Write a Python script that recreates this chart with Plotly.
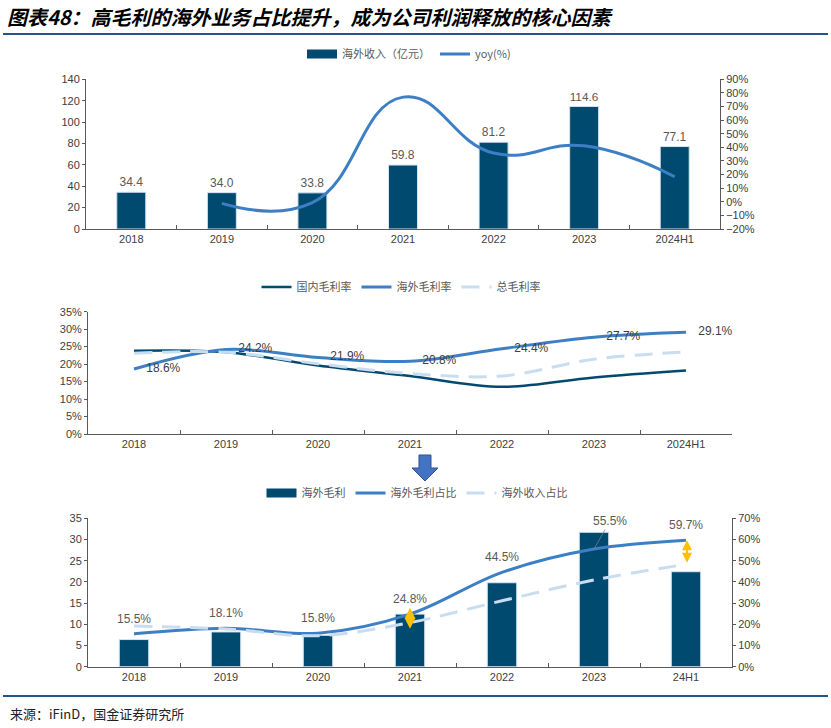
import plotly.graph_objects as go

# ---------------- data ----------------
years_top = ["2018", "2019", "2020", "2021", "2022", "2023", "2024H1"]
overseas_rev = [34.4, 34.0, 33.8, 59.8, 81.2, 114.6, 77.1]          # 海外收入（亿元）
overseas_yoy = [None, -1.2, -0.6, 76.9, 35.8, 41.1, 18.4]            # yoy(%)

years_mid = ["2018", "2019", "2020", "2021", "2022", "2023", "2024H1"]
dom_margin = [23.8, 23.4, 19.6, 16.6, 13.5, 16.2, 18.2]              # 国内毛利率
ovs_margin = [18.6, 24.2, 21.9, 20.8, 24.4, 27.7, 29.1]              # 海外毛利率
tot_margin = [23.1, 23.4, 20.1, 17.3, 16.6, 21.4, 23.5]              # 总毛利率

years_bot = ["2018", "2019", "2020", "2021", "2022", "2023", "24H1"]
ovs_gp = [6.4, 8.2, 7.4, 12.4, 19.8, 31.7, 22.4]                     # 海外毛利
ovs_gp_share = [15.5, 18.1, 15.8, 24.8, 44.5, 55.5, 59.7]            # 海外毛利占比
ovs_rev_share = [19.2, 17.8, 14.6, 20.8, 31.1, 40.9, 48.3]           # 海外收入占比

# ---------------- style ----------------
W, H = 831, 728
DARK = "#004a70"
MID = "#3d7fc4"
LIGHT = "#c9ddf0"
AXC = "#595959"
TXT = "#404040"
GOLD = "#ffc000"
CLEAR = "rgba(0,0,0,0)"
NUM_FONT = "Liberation Sans, Arial, sans-serif"
CJK_FONT = "Noto Sans CJK SC, sans-serif"


def px(x):
    return x / W


def py(y):
    return 1 - y / H


fig = go.Figure()

# ---------- top chart ----------
fig.add_trace(go.Scatter(x=[None], y=[None], mode="lines", name="海外收入（亿元）",
                         line=dict(color=DARK, width=9), legend="legend",
                         xaxis="x", yaxis="y", hoverinfo="skip"))
fig.add_trace(go.Bar(x=years_top, y=overseas_rev, marker=dict(color=DARK, line=dict(color="#d6e4f0", width=1)),
                     text=[f"{v:.1f}" for v in overseas_rev], textposition="outside",
                     textfont=dict(color="#595959", size=12, family=NUM_FONT), cliponaxis=False,
                     showlegend=False, xaxis="x", yaxis="y"))
fig.add_trace(go.Scatter(x=years_top, y=overseas_yoy, mode="lines", name="yoy(%)",
                         line=dict(color=MID, width=3, shape="spline", smoothing=1.3),
                         legend="legend", xaxis="x", yaxis="y2"))

# ---------- middle chart ----------
fig.add_trace(go.Scatter(x=years_mid, y=dom_margin, mode="lines", name="国内毛利率",
                         line=dict(color=DARK, width=2.5, shape="spline", smoothing=1.0),
                         legend="legend2", xaxis="x2", yaxis="y3"))
fig.add_trace(go.Scatter(x=years_mid, y=ovs_margin, mode="lines+markers+text", name="海外毛利率",
                         line=dict(color=MID, width=3, shape="spline", smoothing=1.0),
                         marker=dict(size=18, color=CLEAR, line=dict(width=0)),
                         text=[f"{v:.1f}%" for v in ovs_margin], textposition="middle right",
                         textfont=dict(color=TXT, size=12, family=NUM_FONT), cliponaxis=False,
                         legend="legend2", xaxis="x2", yaxis="y3"))
fig.add_trace(go.Scatter(x=years_mid, y=tot_margin, mode="lines", name="总毛利率",
                         line=dict(color=LIGHT, width=3, dash="18px,10px", shape="spline", smoothing=1.0),
                         legend="legend2", xaxis="x2", yaxis="y3"))

# ---------- bottom chart ----------
fig.add_trace(go.Scatter(x=[None], y=[None], mode="lines", name="海外毛利",
                         line=dict(color=DARK, width=9), legend="legend3",
                         xaxis="x3", yaxis="y4", hoverinfo="skip"))
fig.add_trace(go.Bar(x=years_bot, y=ovs_gp, marker=dict(color=DARK, line=dict(color="#d6e4f0", width=1)),
                     showlegend=False, xaxis="x3", yaxis="y4"))
share_text = [f"{v:.1f}%" for v in ovs_gp_share]
share_text[5] = ""
fig.add_trace(go.Scatter(x=years_bot, y=ovs_gp_share, mode="lines+markers+text", name="海外毛利占比",
                         line=dict(color=MID, width=3, shape="spline", smoothing=1.0),
                         marker=dict(size=11, color=CLEAR, line=dict(width=0)),
                         text=share_text, textposition="top center",
                         textfont=dict(color="#595959", size=12, family=NUM_FONT), cliponaxis=False,
                         legend="legend3", xaxis="x3", yaxis="y5"))
fig.add_trace(go.Scatter(x=years_bot, y=ovs_rev_share, mode="lines", name="海外收入占比",
                         line=dict(color=LIGHT, width=3, dash="18px,10px", shape="spline", smoothing=1.0),
                         legend="legend3", xaxis="x3", yaxis="y5"))
# small gold diamond marking the 2021 gap between the two shares
fig.add_trace(go.Scatter(x=[years_bot[3]], y=[(ovs_gp_share[3] + ovs_rev_share[3]) / 2],
                         mode="markers", marker=dict(symbol="diamond-tall", size=15, color=GOLD,
                                                     line=dict(width=0)),
                         showlegend=False, hoverinfo="skip", xaxis="x3", yaxis="y5"))

# ---------------- axes ----------------
tickfont = dict(family=NUM_FONT, size=11, color=TXT)
xcommon = dict(type="category", showline=True, linecolor=AXC, linewidth=1, ticks="inside",
               ticklen=4, tickcolor=AXC, tickson="boundaries", showgrid=False, zeroline=False,
               tickfont=tickfont, fixedrange=True, range=[-0.5, 6.5], autorange=False, tickangle=0)
ycommon = dict(showline=True, linecolor=AXC, linewidth=1, ticks="outside", ticklen=3,
               tickcolor=AXC, showgrid=False, zeroline=False, tickfont=tickfont, fixedrange=True)

fig.update_layout(
    xaxis=dict(domain=[px(86), px(720)], anchor="y", categoryarray=years_top,
               categoryorder="array", **xcommon),
    yaxis=dict(domain=[py(229), py(79.3)], range=[0, 140], dtick=20, anchor="x", **ycommon),
    yaxis2=dict(overlaying="y", side="right", range=[-20, 90], dtick=10, ticksuffix="%",
                anchor="x", **ycommon),
    xaxis2=dict(domain=[px(88), px(732)], anchor="y3", categoryarray=years_mid,
                categoryorder="array", **xcommon),
    yaxis3=dict(domain=[py(434), py(311.7)], range=[0, 35], dtick=5, ticksuffix="%",
                anchor="x2", **ycommon),
    xaxis3=dict(domain=[px(88), px(732)], anchor="y4", categoryarray=years_bot,
                categoryorder="array", **xcommon),
    yaxis4=dict(domain=[py(666.7), py(518.3)], range=[0, 35], dtick=5, anchor="x3", **ycommon),
    yaxis5=dict(overlaying="y4", side="right", range=[0, 70], dtick=10, ticksuffix="%",
                anchor="x3", **ycommon),
)

legfont = dict(family=CJK_FONT, size=11, color="#595959")
fig.update_layout(
    legend=dict(orientation="h", x=px(409), y=py(54), xanchor="center", yanchor="middle",
                font=legfont, bgcolor="rgba(0,0,0,0)", itemwidth=30, traceorder="normal"),
    legend2=dict(orientation="h", x=px(401), y=py(287), xanchor="center", yanchor="middle",
                 font=legfont, bgcolor="rgba(0,0,0,0)", itemwidth=30, traceorder="normal"),
    legend3=dict(orientation="h", x=px(417), y=py(493), xanchor="center", yanchor="middle",
                 font=legfont, bgcolor="rgba(0,0,0,0)", itemwidth=30, traceorder="normal"),
)

# ---------------- annotations ----------------
annotations = [
    dict(xref="paper", yref="paper", x=px(5), y=py(16), xanchor="left", yanchor="middle",
         text="<b><i>图表48：高毛利的海外业务占比提升，成为公司利润释放的核心因素</i></b>",
         showarrow=False, font=dict(family=CJK_FONT, size=20, color="#000000")),
    dict(xref="paper", yref="paper", x=px(8), y=py(713), xanchor="left", yanchor="middle",
         text="来源：iFinD，国金证券研究所", showarrow=False,
         font=dict(family=CJK_FONT, size=13, color="#222222")),
    # 55.5% label with leader line
    dict(xref="x3", yref="y5", x=years_bot.index("2023"), y=ovs_gp_share[5],
         text=f"{ovs_gp_share[5]:.1f}%",
         showarrow=True, arrowhead=0, arrowwidth=0.8, arrowcolor="#7f7f7f", ax=16, ay=-28,
         font=dict(family=NUM_FONT, size=12, color="#595959"), standoff=0),
    # gold double arrow for 24H1 gap
    dict(xref="x3", yref="y5", x=6, y=ovs_gp_share[6], xshift=1,
         axref="pixel", ax=0, ayref="y5", ay=ovs_rev_share[6], text="", showarrow=True,
         arrowhead=2, arrowsize=1, arrowwidth=2, arrowside="end+start", arrowcolor=GOLD),
]
fig.update_layout(annotations=annotations)

# ---------------- decorative shapes ----------------
arrow_pts = [(419, 455), (431, 455), (431, 468), (438, 468), (425, 481), (412, 468), (419, 468)]
path = "M " + " L ".join(f"{px(x):.5f},{py(y):.5f}" for x, y in arrow_pts) + " Z"
shapes = [
    dict(type="line", xref="paper", yref="paper", x0=px(3), x1=px(828), y0=py(34), y1=py(34),
         line=dict(color="#24548a", width=2)),
    dict(type="line", xref="paper", yref="paper", x0=px(3), x1=px(828), y0=py(696), y1=py(696),
         line=dict(color="#24548a", width=2)),
    dict(type="path", xref="paper", yref="paper", path=path,
         fillcolor="#4472c4", line=dict(color="#2f528f", width=1)),
]
fig.update_layout(shapes=shapes)

fig.update_layout(
    width=W, height=H, margin=dict(l=0, r=0, t=0, b=0, autoexpand=False),
    paper_bgcolor="white", plot_bgcolor="white",
    bargap=0.68, showlegend=True,
    font=dict(family=NUM_FONT, color=TXT),
)

fig.write_html("out.html", config={"responsive": False, "displayModeBar": False},
               post_script="document.body.style.margin='0';document.body.style.overflow='hidden';")
